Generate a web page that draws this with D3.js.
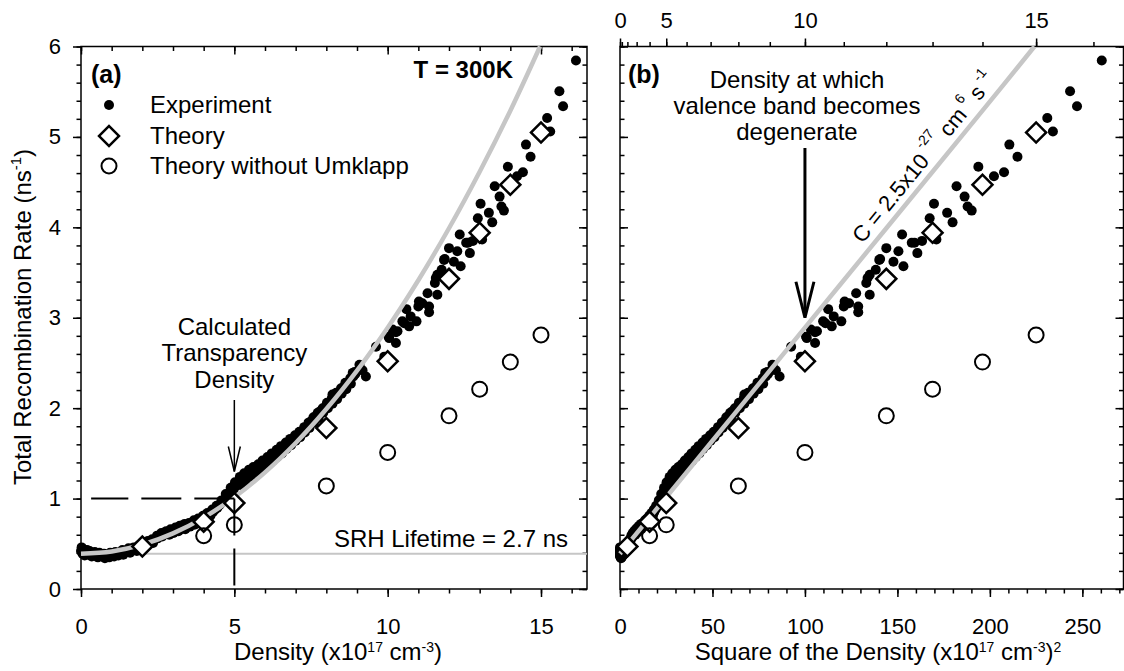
<!DOCTYPE html>
<html><head><meta charset="utf-8">
<script src="https://cdn.jsdelivr.net/npm/d3@7"></script>
<style>
body{margin:0;background:#fff}
text{font-family:"Liberation Sans",Arial,Helvetica,sans-serif;fill:#000}
</style>
</head><body>
<svg id="c" width="1124" height="671"></svg>
<script>
// ---------------- data ----------------
// Experiment: density (x1e17 cm^-3) and total recombination rate (ns^-1)
const expDensity = [
 0.00,0.02,0.05,0.08,0.12,0.15,0.20,0.25,0.30,0.35,
 0.42,0.50,0.55,0.62,0.70,0.78,0.85,0.92,1.00,1.08,
 1.15,1.22,1.30,1.38,1.45,1.52,1.60,1.68,1.75,1.82,
 1.90,1.98,2.05,2.12,2.20,2.28,2.35,2.42,2.50,2.58,
 2.65,2.72,2.80,2.88,2.95,3.02,3.10,3.18,3.25,3.32,
 3.40,3.48,3.55,3.62,3.70,3.78,3.85,3.92,4.00,4.08,
 4.15,4.22,4.30,4.38,4.45,4.52,4.60,4.68,4.75,4.82,
 4.90,4.98,5.05,5.12,5.20,5.28,5.35,5.42,5.50,5.58,
 5.65,5.72,5.80,5.88,5.95,6.02,6.10,6.18,6.25,6.32,
 6.40,6.48,6.55,6.62,6.70,6.78,6.85,6.92,7.00,7.08,
 7.15,7.22,7.30,7.38,7.45,7.52,7.60,7.68,7.75,7.82,
 7.90,7.98,8.05,8.12,8.20,8.28,8.35,8.42,8.50,8.58,
 8.65,8.72,8.80,8.88,8.95,9.05,
 0.10,0.28,0.45,0.60,0.75,0.95,1.12,1.35,1.55,1.72,
 1.88,2.02,2.18,2.32,2.48,2.62,2.78,2.92,3.08,3.22,
 3.38,3.52,3.68,3.82,3.98,4.12,4.28,4.42,4.58,4.72,
 4.88,5.02,5.18,5.32,5.48,5.62,5.78,5.92,6.08,6.22,
 6.38,6.52,6.68,6.82,6.98,7.12,7.28,7.42,7.58,7.72,
 7.88,8.02,8.18,8.32,8.48,8.62,8.78,8.92,9.08,
 8.20,8.86,9.18,9.29,9.62,9.89,10.03,10.05,10.16,10.27,
 10.27,10.32,10.48,10.54,10.61,10.70,10.75,10.94,11.00,11.02,
 11.13,11.30,11.35,11.35,11.54,11.57,11.62,11.62,11.76,11.84,
 11.86,12.00,12.16,12.27,12.35,12.38,12.56,12.62,12.68,12.78,
 12.94,13.03,13.08,13.30,13.41,13.49,13.65,13.71,13.79,13.92,
 14.22,14.41,14.51,14.66,15.20,15.30,15.60,15.72,16.14
];
const expRate = [
 0.42,0.46,0.39,0.44,0.37,0.41,0.43,0.38,0.40,0.36,
 0.39,0.37,0.35,0.38,0.36,0.34,0.37,0.35,0.38,0.36,
 0.39,0.37,0.40,0.38,0.41,0.42,0.40,0.43,0.44,0.42,
 0.45,0.47,0.46,0.49,0.50,0.52,0.51,0.55,0.56,0.60,
 0.58,0.62,0.61,0.60,0.63,0.62,0.65,0.64,0.66,0.67,
 0.66,0.70,0.69,0.72,0.71,0.74,0.76,0.75,0.78,0.80,
 0.82,0.81,0.85,0.88,0.90,0.93,0.96,0.99,1.02,1.05,
 1.08,1.10,1.14,1.18,1.15,1.22,1.19,1.26,1.24,1.31,
 1.27,1.33,1.30,1.36,1.34,1.40,1.38,1.44,1.42,1.48,
 1.46,1.52,1.50,1.57,1.55,1.61,1.59,1.66,1.64,1.70,
 1.68,1.75,1.73,1.80,1.78,1.86,1.84,1.92,1.89,1.97,
 1.95,2.02,2.00,2.07,2.05,2.13,2.10,2.18,2.16,2.24,
 2.21,2.29,2.27,2.35,2.38,2.42,
 0.40,0.42,0.41,0.40,0.39,0.40,0.41,0.43,0.45,0.46,
 0.48,0.50,0.53,0.55,0.59,0.62,0.64,0.66,0.68,0.70,
 0.72,0.73,0.76,0.78,0.81,0.84,0.88,0.92,0.98,1.05,
 1.12,1.18,1.24,1.28,1.32,1.35,1.38,1.42,1.46,1.50,
 1.54,1.58,1.62,1.66,1.70,1.74,1.79,1.84,1.90,1.95,
 2.00,2.06,2.11,2.17,2.22,2.28,2.33,2.40,2.48,
 2.15,2.39,2.42,2.35,2.68,2.57,2.79,2.775,2.87,2.84,
 2.72,2.85,2.96,2.94,3.095,2.905,3.015,2.96,3.125,3.18,
 3.16,3.27,3.125,3.06,3.385,3.44,3.475,3.255,3.53,3.64,
 3.65,3.77,3.62,3.735,3.92,3.57,3.83,3.83,3.715,3.85,
 4.10,4.26,3.865,4.16,4.055,4.455,4.34,4.23,4.185,4.67,
 4.565,4.61,4.915,4.78,5.21,5.06,5.505,5.34,5.845
];
// Theory (diamonds)
const theoryDensity = [2, 4, 5, 8, 10, 12, 13, 14, 15];
const theoryRate    = [0.47, 0.745, 0.95, 1.78, 2.52, 3.43, 3.94, 4.47, 5.05];
// Theory without Umklapp (open circles)
const noUmklappDensity = [4, 5, 8, 10, 12, 13, 14, 15];
const noUmklappRate    = [0.59, 0.71, 1.14, 1.51, 1.915, 2.21, 2.51, 2.81];
// C n^2 fit curve (grey)
const fitDensity = [0, 1, 2, 3, 4, 5, 6, 7, 8, 9, 10, 11, 12, 13, 14, 14.97];
const fitRate    = [0.39, 0.415, 0.49, 0.615, 0.79, 1.015, 1.29, 1.615, 1.99, 2.415, 2.89, 3.415, 3.99, 4.615, 5.29, 6.0];
// SRH level and annotation values
const srhRate = 0.39;
const transparencyDensity = 5, transparencyRate = 1;
const degenerateSquare = 100;
// ticks
const yMajor = [0, 1, 2, 3, 4, 5, 6];
const xMajorA = [0, 5, 10, 15];
const xMajorB = [0, 50, 100, 150, 200, 250];
const xTopB = [0, 5, 10, 15];

// ---------------- setup ----------------
const svg = d3.select('#c');
const FONT = '"Liberation Sans",Arial,Helvetica,sans-serif';
const yA = d3.scaleLinear().domain([0, 6]).range([589, 46.5]);
const xA = d3.scaleLinear().domain([0, 16.5]).range([81, 587]);
const xB = d3.scaleLinear().domain([0, 272.25]).range([620, 1123.5]);
const xBn = d3.scalePow().exponent(2).domain([0, 16.5]).range([620, 1123.5]);

const exp = expDensity.map((d, i) => ({n: d, r: expRate[i]}));
const theo = theoryDensity.map((d, i) => ({n: d, r: theoryRate[i]}));
const noU = noUmklappDensity.map((d, i) => ({n: d, r: noUmklappRate[i]}));
const fit = fitDensity.map((d, i) => ({n: d, r: fitRate[i]}));

function drawAxis(gen, tx, ty, fs) {
  const g = svg.append('g').attr('transform', `translate(${tx},${ty})`).call(gen);
  g.select('.domain').remove();
  g.selectAll('line').attr('stroke', '#000').attr('stroke-width', 1.5);
  g.selectAll('text').attr('font-size', fs || 22).attr('fill', '#000').attr('font-family', FONT);
  return g;
}
const noLab = () => '';
const MAJ = 8, MIN = 4.5;

// ---- panel (a) axes ----
drawAxis(d3.axisBottom(xA).tickValues(d3.range(0, 17, 1)).tickSize(MIN).tickFormat(noLab), 0, 589);
drawAxis(d3.axisBottom(xA).tickValues(xMajorA).tickSize(MAJ).tickPadding(21).tickFormat(d3.format('d')), 0, 589);
drawAxis(d3.axisTop(xA).tickValues(d3.range(0, 17, 1)).tickSize(-MIN).tickFormat(noLab), 0, 46.5);
drawAxis(d3.axisTop(xA).tickValues(xMajorA).tickSize(-MAJ).tickFormat(noLab), 0, 46.5);
drawAxis(d3.axisLeft(yA).tickValues(d3.range(0, 6.01, 0.2)).tickSize(MIN).tickFormat(noLab), 81, 0);
drawAxis(d3.axisLeft(yA).tickValues(yMajor).tickSize(MAJ).tickPadding(12).tickFormat(d3.format('d')), 81, 0);
drawAxis(d3.axisRight(yA).tickValues(d3.range(0, 6.01, 0.2)).tickSize(-MIN).tickFormat(noLab), 587, 0);
drawAxis(d3.axisRight(yA).tickValues(yMajor).tickSize(-MAJ).tickFormat(noLab), 587, 0);

// ---- panel (b) axes ----
drawAxis(d3.axisBottom(xB).tickValues(d3.range(0, 271, 10)).tickSize(MIN).tickFormat(noLab), 0, 589);
drawAxis(d3.axisBottom(xB).tickValues(xMajorB).tickSize(MAJ).tickPadding(21).tickFormat(d3.format('d')), 0, 589);
drawAxis(d3.axisTop(xBn).tickValues(d3.range(0, 17, 1)).tickSize(MIN).tickFormat(noLab), 0, 46.5);
drawAxis(d3.axisTop(xBn).tickValues(xTopB).tickSize(MAJ).tickPadding(11).tickFormat(d3.format('d')), 0, 46.5);
drawAxis(d3.axisLeft(yA).tickValues(d3.range(0, 6.01, 0.2)).tickSize(-MIN).tickFormat(noLab), 620, 0);
drawAxis(d3.axisLeft(yA).tickValues(yMajor).tickSize(-MAJ).tickFormat(noLab), 620, 0);
drawAxis(d3.axisRight(yA).tickValues(d3.range(0, 6.01, 0.2)).tickSize(-MIN).tickFormat(noLab), 1123.5, 0);
drawAxis(d3.axisRight(yA).tickValues(yMajor).tickSize(-MAJ).tickFormat(noLab), 1123.5, 0);

// frames
svg.append('rect').attr('x', xA(0)).attr('y', yA(6)).attr('width', xA(16.5) - xA(0)).attr('height', yA(0) - yA(6))
  .attr('fill', 'none').attr('stroke', '#000').attr('stroke-width', 1.5);
svg.append('rect').attr('x', xB(0)).attr('y', yA(6)).attr('width', xB(272.25) - xB(0)).attr('height', yA(0) - yA(6))
  .attr('fill', 'none').attr('stroke', '#000').attr('stroke-width', 1.5);

// ---------------- marks ----------------
const GREY = '#c6c6c6';
// SRH line (panel a)
svg.append('line').attr('x1', xA(0)).attr('x2', xA(16.5)).attr('y1', yA(srhRate)).attr('y2', yA(srhRate))
  .attr('stroke', GREY).attr('stroke-width', 2);

function panel(xf, gClass) {
  const g = svg.append('g').attr('class', gClass);
  g.selectAll('circle.exp').data(exp).join('circle').attr('class', 'exp')
    .attr('cx', d => xf(d.n)).attr('cy', d => yA(d.r)).attr('r', 5).attr('fill', '#000');
  g.append('path').datum(fit)
    .attr('d', d3.line().x(d => xf(d.n)).y(d => yA(d.r)).curve(d3.curveCatmullRom))
    .attr('fill', 'none').attr('stroke', GREY).attr('stroke-width', 4.5);
  g.selectAll('path.theo').data(theo).join('path').attr('class', 'theo')
    .attr('d', d3.symbol().type(d3.symbolSquare).size(200)())
    .attr('transform', d => `translate(${xf(d.n)},${yA(d.r)}) rotate(45)`)
    .attr('fill', '#fff').attr('stroke', '#000').attr('stroke-width', 2.5);
  g.selectAll('circle.nou').data(noU).join('circle').attr('class', 'nou')
    .attr('cx', d => xf(d.n)).attr('cy', d => yA(d.r)).attr('r', 7.5)
    .attr('fill', 'none').attr('stroke', '#000').attr('stroke-width', 2);
}
panel(n => xA(n), 'pa');
panel(n => xB(n * n), 'pb');

// dashed transparency lines (panel a)
svg.append('line').attr('x1', xA(transparencyDensity)).attr('y1', yA(transparencyRate))
  .attr('x2', xA(0.33)).attr('y2', yA(transparencyRate))
  .attr('stroke', '#000').attr('stroke-width', 2).attr('stroke-dasharray', '40,13');
svg.append('line').attr('x1', xA(transparencyDensity)).attr('y1', yA(transparencyRate))
  .attr('x2', xA(transparencyDensity)).attr('y2', yA(0) + 8)
  .attr('stroke', '#000').attr('stroke-width', 2).attr('stroke-dasharray', '37,13');

// ---------------- text ----------------
function t(x, y, str, opts = {}) {
  return svg.append('text').attr('x', x).attr('y', y).text(str)
    .attr('font-size', opts.fs || 24).attr('font-weight', opts.bold ? 'bold' : null)
    .attr('text-anchor', opts.anchor || 'start').attr('font-family', FONT);
}
t(91, 83, '(a)', {bold: true, fs: 25});
t(628, 83, '(b)', {bold: true, fs: 25});
t(513, 78, 'T = 300K', {bold: true, anchor: 'end'});

// legend
const lgX = 109;
svg.append('circle').attr('cx', lgX).attr('cy', 105).attr('r', 5).attr('fill', '#000');
svg.append('path').attr('d', d3.symbol().type(d3.symbolSquare).size(200)())
  .attr('transform', `translate(${lgX},136) rotate(45)`).attr('fill', '#fff').attr('stroke', '#000').attr('stroke-width', 2.5);
svg.append('circle').attr('cx', lgX).attr('cy', 166).attr('r', 7.5).attr('fill', 'none').attr('stroke', '#000').attr('stroke-width', 2);
t(150, 113, 'Experiment');
t(150, 144, 'Theory');
t(150, 174, 'Theory without Umklapp');

// transparency annotation
const ax = xA(transparencyDensity);
t(ax, 335, 'Calculated', {anchor: 'middle'});
t(ax, 361, 'Transparency', {anchor: 'middle'});
t(ax, 387.5, 'Density', {anchor: 'middle'});
const tipA = yA(1.3);
svg.append('line').attr('x1', ax).attr('x2', ax).attr('y1', 400).attr('y2', tipA).attr('stroke', '#000').attr('stroke-width', 1.5);
svg.append('path').attr('d', `M${ax - 6},${tipA - 25}L${ax},${tipA}L${ax + 6},${tipA - 25}`)
  .attr('fill', 'none').attr('stroke', '#000').attr('stroke-width', 1.5);

t(568, 547, 'SRH Lifetime = 2.7 ns', {anchor: 'end'});

// degenerate annotation (panel b)
t(797, 88, 'Density at which', {anchor: 'middle'});
t(797, 114, 'valence band becomes', {anchor: 'middle'});
t(797, 140, 'degenerate', {anchor: 'middle'});
const bx = xB(degenerateSquare), tipB = yA(3.0);
svg.append('line').attr('x1', bx).attr('x2', bx).attr('y1', 148).attr('y2', tipB - 2).attr('stroke', '#000').attr('stroke-width', 3);
svg.append('path').attr('d', `M${bx - 9},${tipB - 36}L${bx},${tipB}L${bx + 9},${tipB - 36}`)
  .attr('fill', 'none').attr('stroke', '#000').attr('stroke-width', 3);

// C label along the grey line in panel b
{
  const p0 = fit[0], p1 = fit[fit.length - 1];
  const x0 = xB(p0.n * p0.n), y0 = yA(p0.r), x1 = xB(p1.n * p1.n), y1 = yA(p1.r);
  const ang = Math.atan2(y1 - y0, x1 - x0) * 180 / Math.PI;
  const tt = 0.6;
  const cx = x0 + tt * (x1 - x0), cy = y0 + tt * (y1 - y0);
  const lab = svg.append('text').attr('transform', `translate(${cx},${cy}) rotate(${ang})`)
    .attr('x', 0).attr('y', -8).attr('font-size', 22).attr('font-family', FONT);
  lab.append('tspan').text('C = 2.5x10');
  lab.append('tspan').text(' -27').attr('font-size', 14).attr('dy', -14);
  lab.append('tspan').text(' cm').attr('dy', 14);
  lab.append('tspan').text(' 6').attr('font-size', 14).attr('dy', -12);
  lab.append('tspan').text(' s').attr('dy', 12);
  lab.append('tspan').text(' -1').attr('font-size', 14).attr('dy', -12);
}

// axis titles
{
  const yl = svg.append('text').attr('transform', 'translate(31,317) rotate(-90)')
    .attr('text-anchor', 'middle').attr('font-size', 24).attr('font-family', FONT);
  yl.append('tspan').text('Total Recombination Rate (ns');
  yl.append('tspan').text('-1').attr('font-size', 15).attr('dy', -10);
  yl.append('tspan').text(')').attr('dy', 10);

  const xl = svg.append('text').attr('x', 338).attr('y', 660).attr('text-anchor', 'middle')
    .attr('font-size', 24).attr('font-family', FONT);
  xl.append('tspan').text('Density (x10');
  xl.append('tspan').text('17').attr('font-size', 14).attr('dy', -8);
  xl.append('tspan').text(' cm').attr('dy', 8);
  xl.append('tspan').text('-3').attr('font-size', 14).attr('dy', -8);
  xl.append('tspan').text(')').attr('dy', 8);

  const xl2 = svg.append('text').attr('x', 878).attr('y', 660).attr('text-anchor', 'middle')
    .attr('font-size', 24).attr('font-family', FONT);
  xl2.append('tspan').text('Square of the Density (x10');
  xl2.append('tspan').text('17').attr('font-size', 14).attr('dy', -8);
  xl2.append('tspan').text(' cm').attr('dy', 8);
  xl2.append('tspan').text('-3').attr('font-size', 14).attr('dy', -8);
  xl2.append('tspan').text(')').attr('dy', 8);
  xl2.append('tspan').text('2').attr('font-size', 14).attr('dy', -8);
}
</script>
</body></html>
